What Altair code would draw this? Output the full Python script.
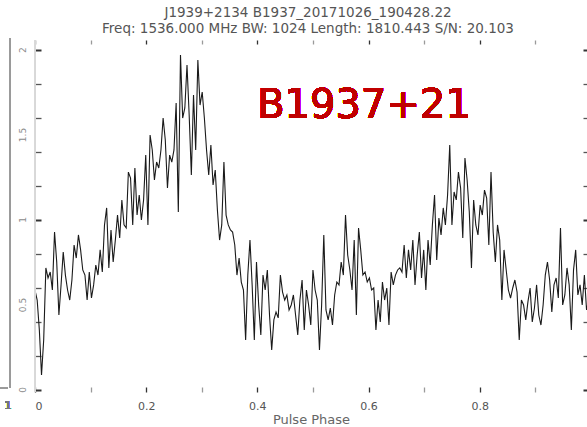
import altair as alt
import pandas as pd

# Integrated pulse profile of B1937+21, 256 phase bins (arbitrary flux units)
flux = [
    0.588, 0.529, 0.353, 0.088, 0.294, 0.718, 0.659, 0.694, 0.588, 0.929,
    0.753, 0.441, 0.618, 0.812, 0.676, 0.588, 0.529, 0.647, 0.853, 0.776,
    0.912, 0.824, 0.706, 0.676, 0.529, 0.694, 0.541, 0.618, 0.735, 0.676,
    0.824, 0.694, 0.971, 1.071, 0.718, 0.941, 0.753, 0.882, 1.029, 0.894,
    1.118, 0.971, 0.953, 1.282, 1.247, 0.971, 1.306, 1.029, 1.147, 1.000,
    1.118, 1.382, 0.971, 1.500, 1.412, 1.235, 1.341, 1.306, 1.412, 1.600,
    1.471, 1.188, 1.382, 1.341, 1.412, 1.688, 1.047, 1.971, 1.600, 1.659,
    1.912, 1.618, 1.265, 1.735, 1.412, 1.941, 1.676, 1.753, 1.600, 1.412,
    1.265, 1.441, 1.206, 1.294, 1.059, 0.882, 0.971, 1.341, 1.029, 0.971,
    0.941, 0.929, 0.853, 0.676, 0.776, 0.635, 0.588, 0.294, 0.676, 0.882,
    0.618, 0.294, 0.753, 0.500, 0.324, 0.676, 0.588, 0.706, 0.441, 0.235,
    0.412, 0.459, 0.424, 0.676, 0.576, 0.529, 0.559, 0.471, 0.500, 0.559,
    0.441, 0.324, 0.529, 0.647, 0.353, 0.588, 0.500, 0.382, 0.706, 0.588,
    0.529, 0.235, 0.500, 0.912, 0.471, 0.412, 0.482, 0.382, 0.559, 0.635,
    0.618, 0.753, 0.676, 1.029, 0.794, 0.706, 0.588, 0.882, 0.441, 0.953,
    0.824, 0.676, 0.694, 0.635, 0.659, 0.588, 0.600, 0.353, 0.529, 0.400,
    0.635, 0.529, 0.600, 0.382, 0.694, 0.618, 0.676, 0.706, 0.718, 0.694,
    0.853, 0.659, 0.824, 0.706, 0.882, 0.618, 0.794, 0.929, 0.659, 0.824,
    0.588, 0.882, 0.735, 0.971, 1.147, 0.765, 1.012, 0.912, 1.071, 0.971,
    1.147, 1.441, 0.971, 1.165, 1.118, 1.282, 1.188, 0.894, 1.365, 1.235,
    1.047, 0.718, 1.118, 0.971, 0.912, 1.088, 1.029, 1.176, 1.129, 0.853,
    1.282, 0.929, 0.753, 0.971, 0.882, 0.529, 0.824, 0.706, 0.588, 0.541,
    0.600, 0.647, 0.576, 0.294, 0.529, 0.500, 0.412, 0.518, 0.600, 0.400,
    0.482, 0.618, 0.441, 0.382, 0.500, 0.676, 0.753, 0.647, 0.459, 0.618,
    0.659, 0.541, 0.953, 0.500, 0.559, 0.718, 0.618, 0.353, 0.706, 0.824,
    0.559, 0.618, 0.500, 0.676, 0.471, 0.529,
]
n_bins = 256
phase = [i / n_bins for i in range(len(flux))]

phase_ticks = [0.0, 0.1, 0.2, 0.3, 0.4, 0.5, 0.6, 0.7, 0.8, 0.9]
flux_ticks = [0.0, 0.2, 0.4, 0.6, 0.8, 1.0, 1.2, 1.4, 1.6, 1.8, 2.0]
flux_labels = [0.0, 0.5, 1.0, 1.5, 2.0]

title_lines = [
    "J1939+2134  B1937_20171026_190428.22",
    "Freq: 1536.000 MHz BW: 1024 Length: 1810.443 S/N: 20.103",
]
source_name = "B1937+21"

profile = pd.DataFrame({"phase": phase, "flux": flux})
label_df = pd.DataFrame({"level": flux_labels,
                         "text": ["0", "0.5", "1", "1.5", "2"]})

W, H = 552, 352
x_scale = alt.Scale(domain=[0, 0.993], nice=False, zero=False)
y_scale = alt.Scale(domain=[-0.012, 2.059], nice=False, zero=False)

major_x = "round(datum.value * 10) % 2 == 0"
major_y = "round(datum.value * 10) % 10 == 0"
tick_col_x = {"condition": {"test": major_x, "value": "#333333"}, "value": "#9a9a9a"}
tick_col_y = {"condition": {"test": major_y, "value": "#333333"}, "value": "#555555"}
tick_w_y = {"condition": {"test": major_y, "value": 2}, "value": 1.3}

bottom_axis = alt.Axis(
    orient="bottom", values=phase_ticks, offset=-5, tickSize=5, domain=False,
    grid=False, tickColor=tick_col_x, tickWidth=1.3,
    labelExpr=f"{major_x} ? format(datum.value, '.1~f') : ''",
    labelFont="DejaVu Sans", labelFontSize=11, labelColor="#555555",
    labelPadding=8, title="Pulse Phase", titleFont="DejaVu Sans",
    titleFontSize=13, titleFontWeight="normal", titleColor="#666666",
    titlePadding=2,
)
top_axis = alt.Axis(
    orient="top", values=phase_ticks, offset=-4, tickSize=4, domain=False,
    grid=False, labels=False, title=None, tickColor=tick_col_x, tickWidth=1.3,
)
left_axis = alt.Axis(
    orient="left", values=flux_ticks, offset=-6, tickSize=6, domain=False,
    grid=False, labels=False, title=None, tickColor=tick_col_y, tickWidth=tick_w_y,
)
right_axis = alt.Axis(
    orient="right", values=flux_ticks, offset=-4, tickSize=4, domain=False,
    grid=False, labels=False, title=None, tickColor=tick_col_y, tickWidth=tick_w_y,
)

base = alt.Chart(profile)

trace = base.mark_line(color="#1a1a1a", strokeWidth=1.1).encode(
    x=alt.X("phase:Q", scale=x_scale, axis=bottom_axis),
    y=alt.Y("flux:Q", scale=y_scale, axis=left_axis),
)

frame = base.mark_line(opacity=0).encode(
    x=alt.X("phase:Q", scale=x_scale, axis=top_axis),
    y=alt.Y("flux:Q", scale=y_scale, axis=right_axis),
)

# faint left frame line
left_edge = alt.Chart(profile).mark_rule(color="#d8d8d8", strokeWidth=1).encode(
    x=alt.value(0), y=alt.value(0), y2=alt.value(H)
)

# vertical flux labels
flux_text = alt.Chart(label_df).mark_text(
    angle=270, font="DejaVu Sans", fontSize=9, color="#8a8a8a", baseline="middle"
).encode(
    x=alt.value(-12),
    y=alt.Y("level:Q", scale=y_scale, axis=None),
    text="text:N",
)

# edge of the neighbouring panel
side_line = alt.Chart(profile).mark_rule(color="#9a9a9a", strokeWidth=1).encode(
    x=alt.value(-25), y=alt.value(-2), y2=alt.value(348)
)
side_base = alt.Chart(profile).mark_rule(color="#9a9a9a", strokeWidth=1).encode(
    x=alt.value(-35), x2=alt.value(-27), y=alt.value(348)
)
side_label = alt.Chart(profile).mark_text(
    font="DejaVu Sans", fontSize=11, color="#777777"
).encode(x=alt.value(-27), y=alt.value(366), text=alt.value("1"))

name = alt.Chart(profile).mark_text(
    font="DejaVu Sans", fontSize=40, fontWeight="normal", color="#c00000",
    align="center", baseline="alphabetic",
).encode(x=alt.value(329), y=alt.value(78), text=alt.value(source_name))

chart = (
    alt.layer(trace, frame, left_edge, flux_text, side_line, side_base,
              side_label, name)
    .resolve_axis(x="independent", y="independent")
    .properties(
        width=W, height=H,
        padding={"left": 35, "top": 40, "right": 0, "bottom": 35},
        autosize=alt.AutoSizeParams(type="none"),
        background="white",
        title=alt.TitleParams(
            text=title_lines, anchor="middle", font="DejaVu Sans",
            fontSize=13.5, fontWeight="normal", color="#555555",
            offset=2, lineHeight=16, dx=-3,
        ),
    )
    .configure_view(stroke=None)
)

chart.save("out.html", embed_options={"renderer": "svg", "actions": False})
